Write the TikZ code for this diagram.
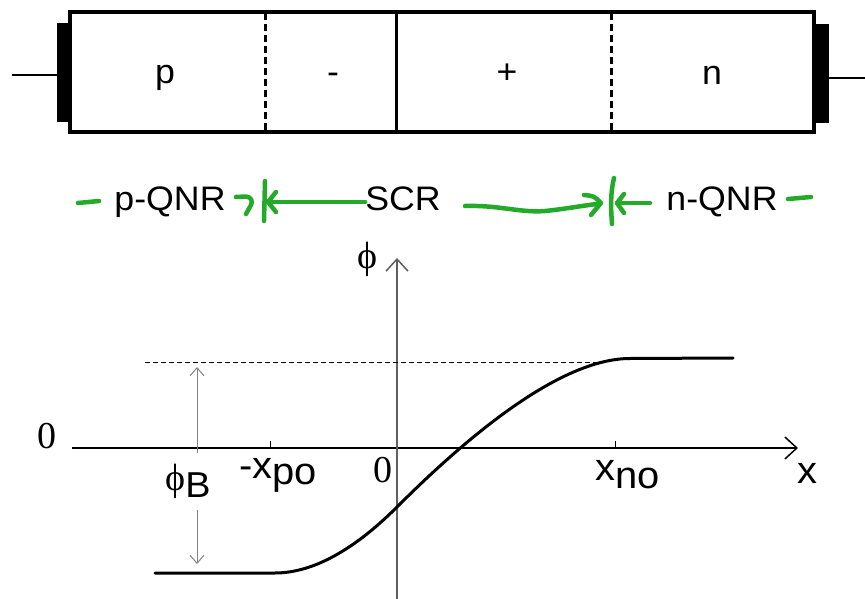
\documentclass[tikz,border=0pt]{standalone}
\usepackage{fontspec}
\setmainfont{Liberation Sans}[FakeStretch=1.05]
\newfontfamily\seriffont{Liberation Serif}
\usetikzlibrary{arrows.meta}
\definecolor{pen}{RGB}{34,170,40}
\definecolor{axisgray}{RGB}{95,95,95}
\definecolor{thingray}{RGB}{130,130,130}
\tikzset{
  lbl/.style={font=\fontsize{34}{40}\selectfont, inner sep=0pt, anchor=base},
  glbl/.style={font=\fontsize{38}{44}\selectfont, inner sep=0pt, anchor=base},
  slbl/.style={font=\seriffont\fontsize{38}{44}\selectfont, inner sep=0pt, anchor=base},
  greenpen/.style={draw=pen, line width=4.5pt, line cap=round, line join=round},
  bigtip/.style={-{Straight Barb[length=12pt,width=22pt,line width=1.5pt]}},
  smalltip/.style={{Straight Barb[length=8pt,width=14pt,line width=1pt]}-},
}
\begin{document}
\begin{tikzpicture}[x=1pt,y=-1pt]
\useasboundingbox (0,0) rectangle (865,599);
% ---------- device ----------
\draw[line width=3.5pt] (70,12) rectangle (814,132);
\fill (57,23) rectangle (70,122);
\fill (814,24) rectangle (829,123);
\draw[line width=2pt] (12,75) -- (57,75);
\draw[line width=2pt] (829,78) -- (865,78);
\draw[line width=3pt, dash pattern=on 7pt off 4pt] (265,13) -- (265,131);
\draw[line width=3pt] (396,13) -- (396,131);
\draw[line width=3pt, dash pattern=on 7pt off 4pt] (611,13) -- (611,131);
\node[lbl] (p) at (165,84) {p};
\node[lbl] (minus) at (333,84) {-};
\node[lbl] (plus) at (507,84) {+};
\node[lbl] (n) at (712,85) {n};
% ---------- green annotations ----------
\node[lbl] (pq) at (170,210) {p-QNR};
\node[lbl] (scr) at (403,210) {SCR};
\node[lbl] (nq) at (722,210) {n-QNR};
\coordinate (barL) at (268,202);
\coordinate (barR) at (617,203);
\draw[greenpen] (78,203) -- (99,201);
\draw[greenpen] (236,197) -- (246,196.5) .. controls (251,197) and (253,201) .. (251,205) -- (246,214);
\draw[greenpen] (265,181) -- (264,221);
\draw[greenpen] (276,192) -- (barL) -- (276,212);
\draw[greenpen] (barL) -- (scr.west |- barL);
\draw[greenpen] (465,206) .. controls (500,205) and (520,213) .. (545,211) .. controls (565,209) and (580,206) .. (597,204);
\draw[greenpen] (584,195) .. controls (594,196) .. (601,203) -- (591,215);
\draw[greenpen] (614,178) .. controls (610,195) and (611,210) .. (612,224);
\draw[greenpen] (624,194) -- (barR) -- (624,213);
\draw[greenpen] (barR) -- (650,203);
\draw[greenpen] (788,199) -- (811,197);
% ---------- graph ----------
\coordinate (xstart) at (72,448);
\coordinate (xend) at (798,448);
\coordinate (ybot) at (397,599);
\coordinate (ytop) at (397,258);
\draw[line width=1.4pt, bigtip] (xstart) -- (xend);
\draw[line width=1.4pt, draw=axisgray, bigtip] (ybot) -- (ytop);
\draw[line width=1pt] (270,441) -- (270,448);
\draw[line width=1pt] (615,441) -- (615,448);
\draw[line width=1pt, dash pattern=on 5pt off 3pt] (145,362) -- (600,362);
\node[slbl, anchor=center] (phi) at (367,259) {ϕ};
\node[slbl] (zeroL) at (47,448) {0};
\node[slbl] (zeroO) at (383,482) {0};
\node[glbl] (xpo) at (278,478) {-x\raisebox{-6pt}{po}};
\node[glbl] (xno) at (628,480) {x\raisebox{-8pt}{no}};
\node[glbl] (xl) at (807,483) {x};
\node[inner sep=0pt, anchor=base] (phiB) at (188,490) {\seriffont\fontsize{38}{44}\selectfont ϕ\fontsize{36}{40}\selectfont\rmfamily\raisebox{-7pt}{B}};
\draw[line width=1pt, draw=thingray, smalltip] (197,367) -- (197,453);
\draw[line width=1pt, draw=thingray, smalltip] (197,564) -- (197,510);
\draw[line width=3pt, line cap=round] (155,573) -- (275,573)
  .. controls (315,573) and (357,547) .. (397,507)
  .. controls (467,437) and (560,358.5) .. (630,358.5)
  -- (733,358);
\end{tikzpicture}
\end{document}
